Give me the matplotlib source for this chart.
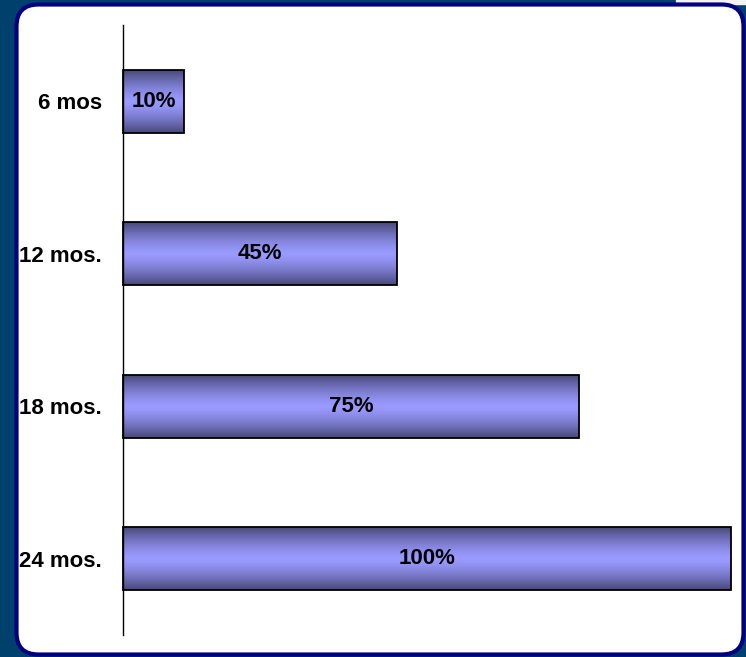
import matplotlib

matplotlib.use("Agg")

import matplotlib.pyplot as plt
import numpy as np
from matplotlib.colors import LinearSegmentedColormap
from matplotlib.patches import FancyBboxPatch


CATEGORIES = ["6 mos", "12 mos.", "18 mos.", "24 mos."]
PERCENTS = [10, 45, 75, 100]
VALUE_LABELS = ["10%", "45%", "75%", "100%"]

OUT_PATH = "out.png"
FONT = ["Liberation Sans Narrow", "Liberation Sans", "DejaVu Sans"]

BG_COLOR = "#00406c"
BORDER_COLOR = "#000080"
BAR_DARK = "#48487a"
BAR_LIGHT = "#9a9aff"


def draw_background(fig) -> None:
    # full-figure axes in pixel units for the framed panel
    bg = fig.add_axes([0, 0, 1, 1], zorder=-10)
    bg.set_xlim(0, 746)
    bg.set_ylim(657, 0)
    bg.axis("off")
    bg.add_patch(plt.Rectangle((0, 0), 746, 657, color=BG_COLOR))
    bg.add_patch(plt.Rectangle((676, 0), 70, 4, color="#f2f2f2"))
    panel = FancyBboxPatch(
        (16.5, 4.5),
        727,
        650,
        boxstyle="round,pad=0,rounding_size=22",
        facecolor="white",
        edgecolor=BORDER_COLOR,
        linewidth=3,
    )
    bg.add_patch(panel)


def gradient_bar(ax, bar, cmap) -> None:
    x0, y0 = bar.get_x(), bar.get_y()
    w, h = bar.get_width(), bar.get_height()
    t = np.linspace(0, 1, 200)
    profile = 1 - np.abs(2 * t - 1) ** 1.4
    img = ax.imshow(
        profile.reshape(-1, 1),
        cmap=cmap,
        vmin=0,
        vmax=1,
        extent=(x0, x0 + w, y0, y0 + h),
        aspect="auto",
        interpolation="bilinear",
        zorder=2,
    )
    img.set_clip_path(bar)


def main() -> None:
    fig = plt.figure(figsize=(7.46, 6.57), dpi=100)
    draw_background(fig)

    ax = fig.add_axes([123 / 746, 22 / 657, 608 / 746, 610 / 657])
    ax.patch.set_alpha(0)

    cmap = LinearSegmentedColormap.from_list("bar", [BAR_DARK, BAR_LIGHT])
    y_pos = np.arange(len(CATEGORIES))

    bars = ax.barh(
        y_pos,
        PERCENTS,
        height=0.41,
        facecolor="none",
        edgecolor="black",
        linewidth=1.3,
        zorder=3,
        clip_on=False,
    )

    for bar, label in zip(bars, VALUE_LABELS):
        gradient_bar(ax, bar, cmap)
        ax.text(
            bar.get_x() + bar.get_width() / 2,
            bar.get_y() + bar.get_height() / 2,
            label,
            ha="center",
            va="center",
            fontsize=16,
            fontweight="bold",
            family=FONT,
            zorder=4,
        )

    ax.set_xlim(0, 100)
    ax.set_ylim(len(CATEGORIES) - 0.5, -0.5)
    ax.set_yticks(y_pos)
    ax.set_yticklabels(CATEGORIES, fontsize=16, fontweight="bold", family=FONT)
    ax.tick_params(axis="y", length=0, pad=15)
    ax.set_xticks([])

    for side in ["top", "right", "bottom"]:
        ax.spines[side].set_visible(False)
    ax.spines["left"].set_linewidth(1.0)

    fig.savefig(OUT_PATH, dpi=100)
    plt.close(fig)


if __name__ == "__main__":
    main()
